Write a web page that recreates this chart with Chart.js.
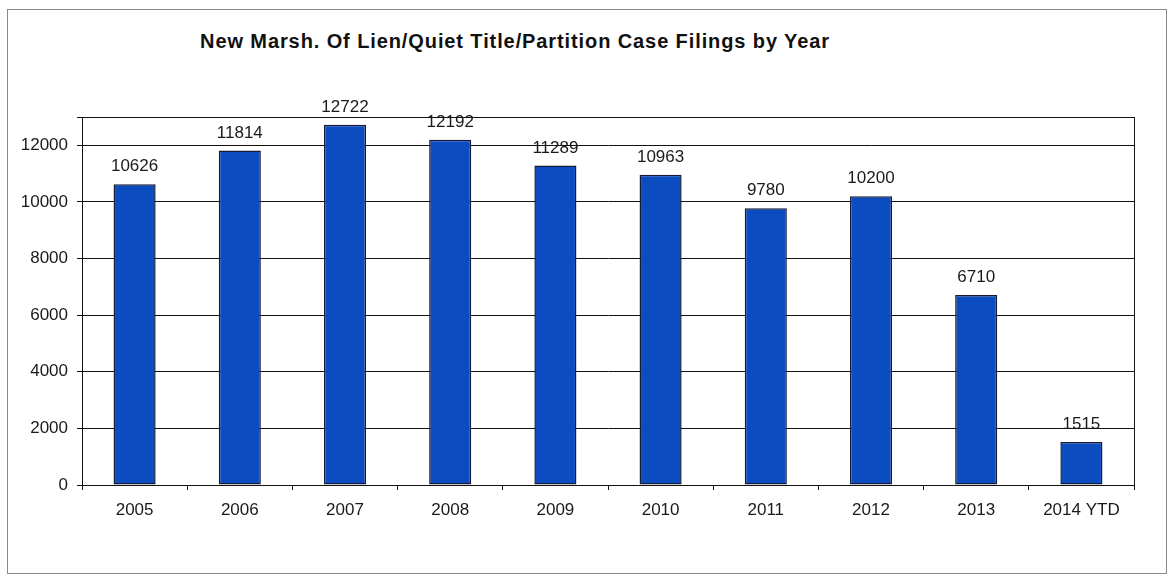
<!DOCTYPE html>
<html>
<head>
<meta charset="utf-8">
<script src="https://cdn.jsdelivr.net/npm/chart.js@4.4.1/dist/chart.umd.min.js"></script>
<style>
  html, body { margin: 0; padding: 0; background: #fff; }
  #wrap { position: relative; width: 1171px; height: 581px; }
  #frame { position: absolute; left: 7px; top: 9px; width: 1158px; height: 563px; border: 1px solid #8a8a8a; }
  #title { position: absolute; left: 0; width: 1030px; top: 30px; text-align: center;
           font: bold 20px "Liberation Sans", Arial, sans-serif; letter-spacing: 0.9px; color: #111; }
  canvas { position: absolute; left: 0; top: 0; }
</style>
</head>
<body>
<div id="wrap">
  <div id="frame"></div>
  <div id="title">New Marsh. Of Lien/Quiet Title/Partition Case Filings by Year</div>
  <canvas id="myChart" width="1171" height="581"></canvas>
</div>
<script>
// Chart data
const years = ["2005", "2006", "2007", "2008", "2009", "2010", "2011", "2012", "2013", "2014 YTD"];
const filings = [10626, 11814, 12722, 12192, 11289, 10963, 9780, 10200, 6710, 1515];
const yTicks = [0, 2000, 4000, 6000, 8000, 10000, 12000];

const textColor = "#1a1a1a";
const labelFont = { family: "Liberation Sans, Arial, sans-serif", size: 17 };

// Draws the box around the plot area and the value labels above bars
const boxAndLabels = {
  id: "boxAndLabels",
  afterDatasetsDraw(chart) {
    const ctx = chart.ctx;
    const area = chart.chartArea;
    ctx.save();
    ctx.strokeStyle = "#111";
    ctx.lineWidth = 1;
    ctx.strokeRect(Math.round(area.left) + 0.5, Math.round(area.top) + 0.5,
                   Math.round(area.right - area.left), Math.round(area.bottom - area.top));

    ctx.fillStyle = textColor;
    ctx.font = "17px " + labelFont.family;
    ctx.textAlign = "center";
    ctx.textBaseline = "bottom";
    const meta = chart.getDatasetMeta(0);
    meta.data.forEach((bar, i) => {
      ctx.fillText(String(filings[i]), bar.x, bar.y - 9);
    });
    ctx.restore();
  }
};

const chartData = {
  labels: years,
  datasets: [
    {
      label: "Filings",
      data: filings,
      backgroundColor: "#0b4cc0",
      borderColor: "#141a38",
      borderWidth: 1.5,
      borderSkipped: false,
      barPercentage: 0.4,
      categoryPercentage: 1.0
    }
  ]
};

const chartOptions = {
  responsive: false,
  animation: false,
  layout: { padding: { top: 117, right: 37, bottom: 36, left: 0 } },
  plugins: {
    legend: { display: false },
    title: { display: false },
    tooltip: { enabled: false }
  },
  scales: {
    x: {
      offset: true,
      grid: { display: true, offset: true, drawOnChartArea: false, tickLength: 5, color: "#111" },
      border: { display: true, color: "#111" },
      ticks: { color: textColor, font: labelFont, padding: 10, maxRotation: 0 },
      afterFit(scale) { scale.height = 60; }
    },
    y: {
      min: 0,
      max: 13000,
      grid: { color: "#111", tickLength: 5, lineWidth: 1 },
      border: { display: true, color: "#111" },
      afterBuildTicks(scale) {
        scale.ticks = yTicks.concat([13000]).map(v => ({ value: v }));
      },
      ticks: {
        color: textColor,
        font: labelFont,
        padding: 9,
        callback: v => (yTicks.includes(v) ? v : "")
      },
      afterFit(scale) { scale.width = 82; }
    }
  }
};

new Chart(document.getElementById("myChart"), {
  type: "bar",
  data: chartData,
  options: chartOptions,
  plugins: [boxAndLabels]
});
</script>
</body>
</html>
